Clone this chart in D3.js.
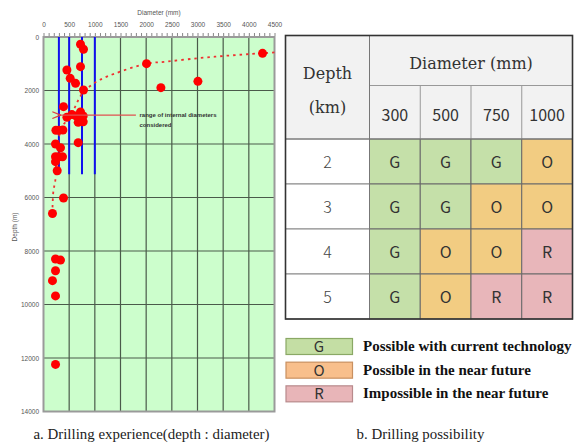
<!DOCTYPE html>
<html>
<head>
<meta charset="utf-8">
<script src="https://cdn.jsdelivr.net/npm/d3@7/dist/d3.min.js"></script>
<style>
  html, body { margin: 0; padding: 0; background: #fff; }
  svg { display: block; }
</style>
</head>
<body>
<svg id="fig" width="577" height="444"></svg>
<script>
// ---- a. drilling experience: well diameter (mm) vs depth (m) ----
const diamTicks  = [0, 500, 1000, 1500, 2000, 2500, 3000, 3500, 4000, 4500];
const depthTicks = [0, 2000, 4000, 6000, 8000, 10000, 12000, 14000];

const wellDiam  = [721, 779, 4267, 2007, 721, 456, 520, 624, 3008, 2287, 779, 390,
                   553, 721, 773, 456, 630, 676, 773,
                   242, 300, 378, 234, 331, 676,
                   234, 300, 370, 234, 267,
                   390, 175, 234, 331, 234, 175, 234, 234];
const wellDepth = [273, 460, 610, 996, 1110, 1234, 1545, 1732, 1657, 1894, 1981, 2604,
                   2900, 2800, 2950, 3000, 2950, 3190, 3170,
                   3488, 3488, 3475, 4000, 4140, 3950,
                   4475, 4475, 4475, 4660, 5000,
                   6020, 6600, 8300, 8340, 8740, 9110, 9680, 12240];

// diameters considered for the study and the depth they reach
const rangeDiam = [300, 500, 750, 1000];
const rangeDepth = 5130;

// trend line through the drilling record
const trendDiam  = [4500, 4000, 3500, 3000, 2400, 2000, 1400, 1100, 940, 780, 680, 585, 470, 360, 290, 250, 228, 195, 176, 175];
const trendDepth = [575, 640, 710, 795, 920, 1000, 1360, 1600, 1790, 2045, 2355, 2730, 3100, 3350, 3850, 4500, 5400, 5720, 6340, 6600];

// ---- b. drilling possibility ----
const depthKm = [2, 3, 4, 5];
const diamMm  = [300, 500, 750, 1000];
const grades  = [
  ["G", "G", "G", "O"],
  ["G", "G", "O", "O"],
  ["G", "O", "O", "R"],
  ["G", "O", "R", "R"]
];
const gradeCodes  = ["G", "O", "R"];
const gradeLabels = ["Possible with current technology", "Possible in the near future", "Impossible in the near future"];

const svg = d3.select("#fig");

// ================= left chart =================
const x = d3.scaleLinear().domain([0, 4500]).range([43.5, 274.5]);
const y = d3.scaleLinear().domain([0, 14000]).range([37, 411.5]);

const chart = svg.append("g");

chart.append("rect")
  .attr("x", x(0)).attr("y", y(0))
  .attr("width", x(4500) - x(0)).attr("height", y(14000) - y(0))
  .attr("fill", "#ccfecc");

// grid
chart.append("g").selectAll("line").data(diamTicks.slice(1, -1)).join("line")
  .attr("x1", d => x(d)).attr("x2", d => x(d))
  .attr("y1", y(0)).attr("y2", y(14000))
  .attr("stroke", "#4a5a4a").attr("stroke-width", 1.2);
chart.append("g").selectAll("line").data(depthTicks.slice(1, -1)).join("line")
  .attr("x1", x(0)).attr("x2", x(4500))
  .attr("y1", d => y(d)).attr("y2", d => y(d))
  .attr("stroke", "#4a5a4a").attr("stroke-width", 1.2);

// frame
chart.append("rect")
  .attr("x", x(0)).attr("y", y(0))
  .attr("width", x(4500) - x(0)).attr("height", y(14000) - y(0))
  .attr("fill", "none").attr("stroke", "#9a9a9a").attr("stroke-width", 2);

// top axis: minor ticks and labels
const minor = d3.axisTop(x).tickValues(d3.range(0, 4501, 100)).tickSize(3).tickFormat("");
const gMinor = chart.append("g").attr("transform", `translate(0,${y(0) - 1})`).call(minor);
gMinor.select(".domain").remove();
gMinor.selectAll("line").attr("stroke", "#888");

const topAxis = d3.axisTop(x).tickValues(diamTicks).tickSize(0).tickPadding(0).tickFormat(d3.format("d"));
const gTop = chart.append("g").attr("transform", `translate(0,27)`).call(topAxis);
gTop.select(".domain").remove();
gTop.selectAll("text").attr("font-family", "Liberation Sans, Arial, sans-serif")
  .attr("font-size", 6.5).attr("fill", "#555");

const leftAxis = d3.axisLeft(y).tickValues(depthTicks).tickSize(0).tickPadding(0).tickFormat(d3.format("d"));
const gLeft = chart.append("g").attr("transform", `translate(39,0)`).call(leftAxis);
gLeft.select(".domain").remove();
gLeft.selectAll("text").attr("font-family", "Liberation Sans, Arial, sans-serif")
  .attr("font-size", 6.5).attr("fill", "#555");

chart.append("text")
  .attr("x", (x(0) + x(4500)) / 2).attr("y", 15)
  .attr("text-anchor", "middle")
  .attr("font-family", "Liberation Sans, Arial, sans-serif").attr("font-size", 6.5).attr("fill", "#555")
  .text("Diameter (mm)");
chart.append("text")
  .attr("transform", `translate(17,${y(7100)}) rotate(-90)`)
  .attr("text-anchor", "middle")
  .attr("font-family", "Liberation Sans, Arial, sans-serif").attr("font-size", 6.5).attr("fill", "#555")
  .text("Depth (m)");

// considered diameter range
chart.append("g").selectAll("line").data(rangeDiam).join("line")
  .attr("x1", d => x(d)).attr("x2", d => x(d))
  .attr("y1", y(0)).attr("y2", y(rangeDepth))
  .attr("stroke", "#1010ee").attr("stroke-width", 2);

// trend line
const trend = trendDiam.map((d, i) => [d, trendDepth[i]]);
chart.append("path")
  .datum(trend)
  .attr("d", d3.line().x(d => x(d[0])).y(d => y(d[1])).curve(d3.curveCatmullRom))
  .attr("fill", "none").attr("stroke", "#f03030").attr("stroke-width", 1.8)
  .attr("stroke-dasharray", "2.5,4");

// wells
chart.append("g").selectAll("circle").data(wellDiam.map((d, i) => [d, wellDepth[i]])).join("circle")
  .attr("cx", d => x(d[0])).attr("cy", d => y(d[1])).attr("r", 4.5)
  .attr("fill", "#ff0000");

// annotation arrow
const ann = chart.append("g");
ann.append("defs").append("marker")
  .attr("id", "arr").attr("viewBox", "0 0 10 10").attr("refX", 1).attr("refY", 5)
  .attr("markerWidth", 6).attr("markerHeight", 6).attr("orient", "auto")
  .append("path").attr("d", "M10,1 L0,5 L10,9").attr("fill", "none")
  .attr("stroke", "#e04040").attr("stroke-width", 1.5);
ann.append("line")
  .attr("x1", x(1800)).attr("x2", x(300) + 1)
  .attr("y1", y(2920)).attr("y2", y(2920))
  .attr("stroke", "#e05050").attr("stroke-width", 1.4)
  .attr("marker-end", "url(#arr)");
ann.append("text")
  .attr("x", x(1870)).attr("y", y(2920) + 2)
  .attr("font-family", "Liberation Sans, Arial, sans-serif").attr("font-size", 6).attr("font-weight", "bold").attr("fill", "#333")
  .text("range of internal diameters");
ann.append("text")
  .attr("x", x(1870)).attr("y", y(2920) + 12)
  .attr("font-family", "Liberation Sans, Arial, sans-serif").attr("font-size", 6).attr("font-weight", "bold").attr("fill", "#333")
  .text("considered");

svg.append("text")
  .attr("x", 151.5).attr("y", 439)
  .attr("text-anchor", "middle")
  .attr("font-family", "Liberation Serif, Times New Roman, serif").attr("font-size", 14.9).attr("fill", "#222")
  .text("a. Drilling experience(depth : diameter)");

// ================= right table =================
const tLeft = 285.5, tRight = 572.5, labelRight = 369.5;
const tTop = 35.5, headMid = 85.5, headBottom = 139, tBottom = 319;

const col = d3.scaleBand().domain(diamMm).range([labelRight, tRight]);
const row = d3.scaleBand().domain(depthKm).range([headBottom, tBottom]);
const gradeFill = d3.scaleOrdinal().domain(gradeCodes).range(["#c5e0a9", "#f2cc82", "#e8b6ba"]);

const tbl = svg.append("g");
const sansCJK = "Noto Sans CJK KR, Noto Sans, sans-serif";
const serif = "DejaVu Serif, Liberation Serif, serif";

// header background
tbl.append("rect").attr("x", tLeft).attr("y", tTop)
  .attr("width", tRight - tLeft).attr("height", headBottom - tTop).attr("fill", "#f2f2f2");
// row label cells
tbl.append("g").selectAll("rect").data(depthKm).join("rect")
  .attr("x", tLeft).attr("y", d => row(d)).attr("width", labelRight - tLeft).attr("height", row.bandwidth())
  .attr("fill", "#fff").attr("stroke", "#888").attr("stroke-width", 1);

// grade cells
const cells = [];
depthKm.forEach((dk, i) => diamMm.forEach((dm, j) => cells.push({ dk, dm, g: grades[i][j] })));
tbl.append("g").selectAll("rect").data(cells).join("rect")
  .attr("x", d => col(d.dm)).attr("y", d => row(d.dk))
  .attr("width", col.bandwidth()).attr("height", row.bandwidth())
  .attr("fill", d => gradeFill(d.g)).attr("stroke", "#6a6a6a").attr("stroke-width", 1);
tbl.append("g").selectAll("text").data(cells).join("text")
  .attr("x", d => col(d.dm) + col.bandwidth() / 2).attr("y", d => row(d.dk) + row.bandwidth() / 2 + 6)
  .attr("text-anchor", "middle").attr("font-family", sansCJK).attr("font-size", 16).attr("fill", "#333")
  .text(d => d.g);

// header lines
tbl.append("line").attr("x1", labelRight).attr("x2", tRight).attr("y1", headMid).attr("y2", headMid)
  .attr("stroke", "#999").attr("stroke-width", 1);
tbl.append("g").selectAll("line").data(diamMm).join("line")
  .attr("x1", d => col(d)).attr("x2", d => col(d)).attr("y1", headMid).attr("y2", headBottom)
  .attr("stroke", "#999").attr("stroke-width", 1);
tbl.append("line").attr("x1", labelRight).attr("x2", labelRight).attr("y1", tTop).attr("y2", tBottom)
  .attr("stroke", "#777").attr("stroke-width", 1);
tbl.append("line").attr("x1", tLeft).attr("x2", tRight).attr("y1", headBottom).attr("y2", headBottom)
  .attr("stroke", "#777").attr("stroke-width", 1);

// header texts
tbl.append("text").attr("x", (tLeft + labelRight) / 2).attr("y", 79)
  .attr("text-anchor", "middle").attr("font-family", serif).attr("font-size", 16).attr("fill", "#333")
  .text("Depth");
tbl.append("text").attr("x", (tLeft + labelRight) / 2).attr("y", 113)
  .attr("text-anchor", "middle").attr("font-family", serif).attr("font-size", 16).attr("fill", "#333")
  .text("(km)");
tbl.append("text").attr("x", (labelRight + tRight) / 2).attr("y", 69)
  .attr("text-anchor", "middle").attr("font-family", serif).attr("font-size", 16).attr("fill", "#333")
  .text("Diameter (mm)");
tbl.append("g").selectAll("text").data(diamMm).join("text")
  .attr("x", d => col(d) + col.bandwidth() / 2).attr("y", 121)
  .attr("text-anchor", "middle").attr("font-family", sansCJK).attr("font-size", 16).attr("fill", "#333")
  .text(d => d);
tbl.append("g").selectAll("text").data(depthKm).join("text")
  .attr("x", (tLeft + labelRight) / 2).attr("y", d => row(d) + row.bandwidth() / 2 + 6)
  .attr("text-anchor", "middle").attr("font-family", sansCJK).attr("font-size", 16).attr("font-weight", 300).attr("fill", "#444")
  .text(d => d);

// outer border
tbl.append("rect").attr("x", tLeft).attr("y", tTop)
  .attr("width", tRight - tLeft).attr("height", tBottom - tTop)
  .attr("fill", "none").attr("stroke", "#333").attr("stroke-width", 1.6);

// legend
const legFill = d3.scaleOrdinal().domain(gradeCodes).range(["#c4dea4", "#f8bf8c", "#e8b5b8"]);
const legStroke = d3.scaleOrdinal().domain(gradeCodes).range(["#8aa865", "#c99060", "#b88a8c"]);
const leg = d3.scaleBand().domain(gradeCodes).range([338, 409]);
const lg = svg.append("g").selectAll("g").data(gradeCodes).join("g")
  .attr("transform", d => `translate(0,${leg(d)})`);
lg.append("rect").attr("x", 286).attr("y", 0.5).attr("width", 66.5).attr("height", 16)
  .attr("fill", d => legFill(d)).attr("stroke", d => legStroke(d)).attr("stroke-width", 1.2);
lg.append("text").attr("x", 319).attr("y", 14)
  .attr("text-anchor", "middle").attr("font-family", sansCJK).attr("font-size", 15).attr("fill", "#333")
  .text(d => d);
lg.append("text").attr("x", 363).attr("y", 13)
  .attr("font-family", "Liberation Serif, Times New Roman, serif").attr("font-size", 15).attr("font-weight", "bold").attr("fill", "#111")
  .text((d, i) => gradeLabels[i]);

svg.append("text")
  .attr("x", 420.5).attr("y", 439)
  .attr("text-anchor", "middle")
  .attr("font-family", "Liberation Serif, Times New Roman, serif").attr("font-size", 14.9).attr("fill", "#222")
  .text("b. Drilling possibility");
</script>
</body>
</html>
